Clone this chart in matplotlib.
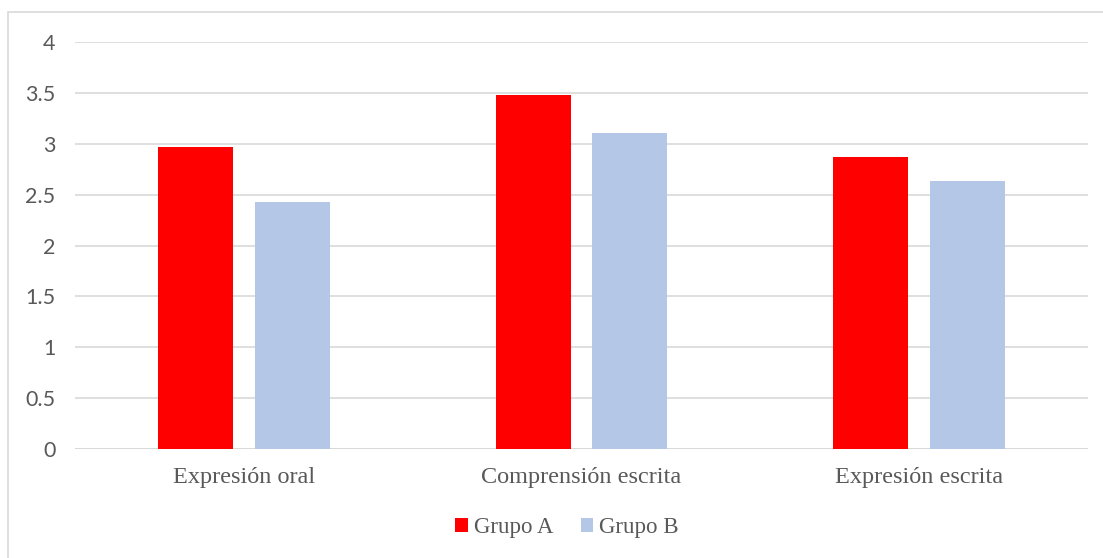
import matplotlib
matplotlib.use("Agg")
import matplotlib.pyplot as plt
from matplotlib.patches import Rectangle
import numpy as np

categories = ["Expresión oral", "Comprensión escrita", "Expresión escrita"]
grupo_a = [2.97, 3.48, 2.87]
grupo_b = [2.43, 3.11, 2.63]
series_names = ["Grupo A", "Grupo B"]
y_ticks = [0, 0.5, 1, 1.5, 2, 2.5, 3, 3.5, 4]
y_tick_labels = ["0", "0.5", "1", "1.5", "2", "2.5", "3", "3.5", "4"]

W, H = 1103, 558
fig = plt.figure(figsize=(W / 100, H / 100), dpi=100)
fig.patch.set_facecolor("white")

# outer frame of the chart area
fig.add_artist(Rectangle((8 / W, -0.1), 1.2, 0.1 + (1 - 12 / H),
                         transform=fig.transFigure, fill=False,
                         edgecolor="#d9d9d9", linewidth=1.2, zorder=0))

ax = fig.add_axes([75 / W, 1 - 449 / H, (1088 - 75) / W, (449 - 42) / H])

x = np.arange(len(categories))
bw = 0.222
off = 0.143
ax.bar(x - off, grupo_a, bw, color="#ff0000", label=series_names[0], zorder=3)
ax.bar(x + off, grupo_b, bw, color="#b4c7e7", label=series_names[1], zorder=3)

ax.set_xlim(-0.5, len(categories) - 0.5)
ax.set_ylim(0, 4)
ax.set_yticks(y_ticks)
ax.set_yticklabels(y_tick_labels)
ax.yaxis.grid(True, color="#d9d9d9", linewidth=1.2, zorder=0)
ax.set_axisbelow(True)
for s in ax.spines.values():
    s.set_visible(False)
ax.axhline(0, color="#d9d9d9", linewidth=1.3, zorder=2)

ax.tick_params(axis="y", length=0, pad=14, labelsize=15.5, labelcolor="#595959")
for t in ax.get_yticklabels():
    t.set_fontfamily("Lato")
ax.set_xticks(x)
ax.set_xticklabels(categories, fontfamily="Liberation Serif", fontsize=17.5,
                   color="#595959")
ax.tick_params(axis="x", length=0, pad=13)

leg = fig.legend(loc="center", bbox_to_anchor=(567 / W, 1 - 528 / H), ncol=2,
                 frameon=False, prop={"family": "Liberation Serif", "size": 16.5},
                 handlelength=0.55, handleheight=0.55, handletextpad=0.25,
                 columnspacing=1.2, labelcolor="#595959")

fig.savefig("out.png", dpi=100, facecolor="white")
